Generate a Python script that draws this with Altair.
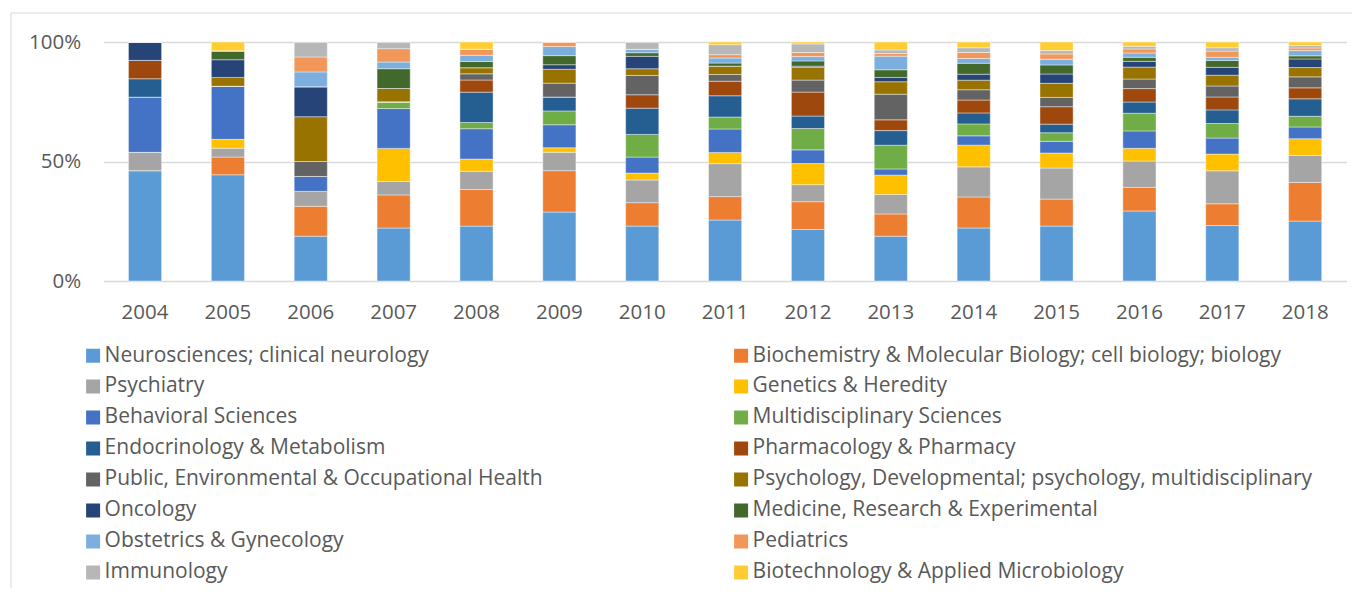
import altair as alt
import pandas as pd

years = [str(y) for y in range(2004, 2019)]

categories = [
    "Neurosciences; clinical neurology",
    "Biochemistry & Molecular Biology; cell biology; biology",
    "Psychiatry",
    "Genetics & Heredity",
    "Behavioral Sciences",
    "Multidisciplinary Sciences",
    "Endocrinology & Metabolism",
    "Pharmacology & Pharmacy",
    "Public, Environmental & Occupational Health",
    "Psychology, Developmental; psychology, multidisciplinary",
    "Oncology",
    "Medicine, Research & Experimental",
    "Obstetrics & Gynecology",
    "Pediatrics",
    "Immunology",
    "Biotechnology & Applied Microbiology",
]

colors = [
    "#5B9BD5", "#ED7D31", "#A5A5A5", "#FFC000", "#4472C4", "#70AD47",
    "#255E91", "#9E480E", "#636363", "#997300", "#264478", "#43682B",
    "#7CAFDD", "#F1975A", "#B7B7B7", "#FFCD33",
]

# share (%) of each category per year, in category order above
v2004 = [46.2, 0, 7.7, 0, 23.1, 0, 7.7, 7.7, 0, 0, 7.7, 0, 0, 0, 0, 0]
v2005 = [44.4, 7.4, 3.7, 3.7, 22.2, 0, 0, 0, 0, 3.7, 7.4, 3.7, 0, 0, 0, 3.7]
v2006 = [18.75, 12.5, 6.25, 0, 6.25, 0, 0, 0, 6.25, 18.75, 12.5, 0, 6.25, 6.25, 6.25, 0]
v2007 = [22.2, 13.9, 5.6, 13.9, 16.7, 2.8, 0, 0, 0, 5.6, 0, 8.3, 2.8, 5.6, 2.8, 0]
v2008 = [23.1, 15.4, 7.7, 5.1, 12.8, 2.6, 12.8, 5.1, 2.6, 2.6, 0, 2.6, 2.6, 2.6, 0, 3.0]
v2009 = [28.8, 17.3, 7.7, 1.9, 9.6, 5.8, 5.8, 0, 5.8, 5.8, 1.9, 3.8, 3.8, 1.9, 0, 0]
v2010 = [23.0, 9.8, 9.5, 2.9, 6.7, 9.5, 11.0, 5.6, 8.1, 2.8, 5.2, 1.5, 1.4, 0, 3.1, 0]
v2011 = [25.5, 9.8, 13.8, 4.7, 9.8, 5.0, 8.9, 6.1, 2.8, 3.5, 0, 1.3, 2.1, 1.4, 4.2, 1.1]
v2012 = [21.5, 11.6, 7.1, 8.8, 5.7, 8.9, 5.2, 10.0, 5.0, 5.3, 0.5, 2.2, 1.8, 1.7, 3.6, 0.8]
v2013 = [18.7, 9.3, 8.1, 8.1, 2.6, 9.9, 6.1, 4.5, 10.7, 5.2, 1.8, 3.2, 5.7, 1.1, 1.5, 3.3]
v2014 = [22.2, 13.0, 12.6, 9.1, 3.9, 5.0, 4.6, 5.4, 4.3, 4.0, 2.5, 4.6, 2.0, 2.5, 2.0, 2.4]
v2015 = [23.0, 11.3, 13.0, 6.3, 4.9, 3.6, 3.6, 7.3, 3.9, 5.9, 3.9, 3.8, 2.4, 2.2, 1.4, 3.6]
v2016 = [29.3, 9.9, 11.0, 5.3, 7.3, 7.4, 4.7, 5.6, 4.0, 5.0, 2.4, 1.7, 1.8, 1.7, 1.1, 1.8]
v2017 = [23.2, 9.1, 13.8, 7.0, 6.7, 6.1, 5.7, 5.4, 4.6, 4.5, 3.3, 2.9, 1.3, 2.6, 1.4, 2.4]
v2018 = [25.1, 16.2, 11.3, 7.0, 4.9, 4.5, 7.3, 4.6, 4.6, 3.9, 3.6, 1.3, 2.2, 1.1, 1.0, 1.5]

year_values = [v2004, v2005, v2006, v2007, v2008, v2009, v2010, v2011,
               v2012, v2013, v2014, v2015, v2016, v2017, v2018]

rows = []
for y, vals in zip(years, year_values):
    for i, (c, v) in enumerate(zip(categories, vals)):
        rows.append({"year": y, "category": c, "value": v, "idx": i})
df = pd.DataFrame(rows)

FONT = "Open Sans"
TXT = "#595959"

bars = alt.Chart(df).mark_bar(stroke="#ffffff", strokeWidth=0.6, strokeOpacity=0.7).encode(
    x=alt.X("year:N", sort=years, title=None,
            scale=alt.Scale(paddingInner=0.6, paddingOuter=0.3),
            axis=alt.Axis(labelAngle=0, labelFont=FONT, labelFontSize=20.5,
                          labelColor=TXT, ticks=False, domain=False,
                          labelPadding=22, grid=False)),
    y=alt.Y("value:Q", stack="normalize", title=None,
            axis=alt.Axis(format=".0%", values=[0, 0.5, 1], labelFont=FONT,
                          labelFontSize=20.5, labelColor=TXT, ticks=False,
                          domain=False, labelPadding=23, gridColor="#D9D9D9",
                          gridWidth=1.5)),
    color=alt.Color("category:N",
                    scale=alt.Scale(domain=categories, range=colors),
                    legend=alt.Legend(orient="none", legendX=-21, legendY=303,
                                      direction="horizontal",
                                      columns=2, title=None, symbolType="square",
                                      symbolSize=196, symbolStrokeWidth=0,
                                      symbolOpacity=1,
                                      labelFont=FONT, labelFontSize=21,
                                      labelColor=TXT, labelOffset=1,
                                      rowPadding=9, columnPadding=187,
                                      labelLimit=1000, padding=0)),
    order=alt.Order("idx:Q", sort="ascending"),
)

border = alt.Chart(pd.DataFrame({"a": [0]})).mark_rect(
    filled=False, stroke="#D9D9D9", strokeWidth=1
).encode(x=alt.value(-92.6), x2=alt.value(1400), y=alt.value(-29), y2=alt.value(700))

chart = alt.layer(border, bars).properties(
    width=1243, height=239,
    autosize="none",
    padding={"left": 95.6, "top": 34, "right": 5, "bottom": 307},
).configure_view(stroke=None)

chart.save("out.html", embed_options={"renderer": "svg", "actions": False})
